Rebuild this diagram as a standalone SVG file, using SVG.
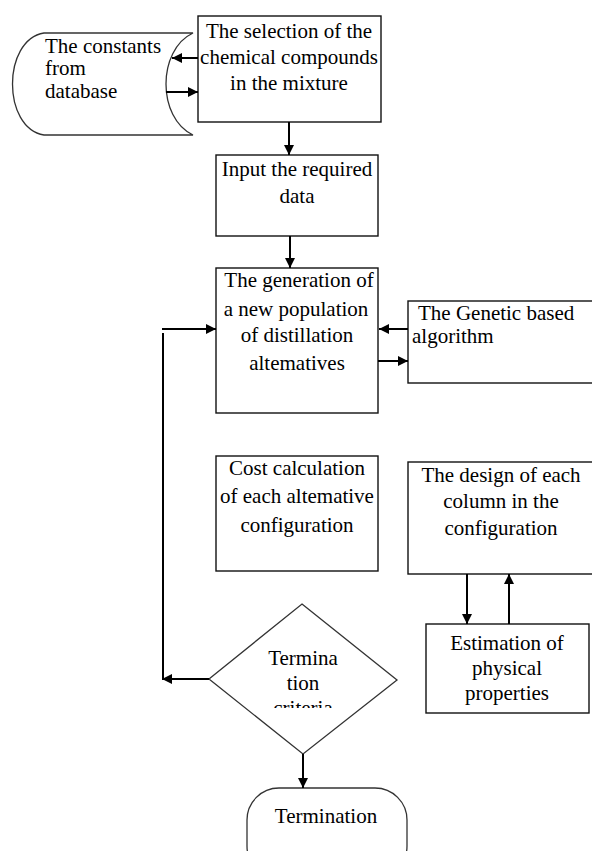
<svg xmlns="http://www.w3.org/2000/svg" width="592" height="851" viewBox="0 0 592 851">
<style>
.box{fill:#fff;stroke:#111;stroke-width:1.4}
.shape{fill:#fff;stroke:#333;stroke-width:1.3}
.conn{fill:none;stroke:#000;stroke-width:2}
text{font-family:"Liberation Serif","Times New Roman",serif;font-size:21px;fill:#000}
.c{text-anchor:middle}
</style>
<defs>
<marker id="ah" viewBox="0 0 10 10" refX="10" refY="5" markerWidth="5" markerHeight="5" orient="auto" markerUnits="strokeWidth">
<path d="M0,0 L10,5 L0,10 z" fill="#000"/>
</marker>
<clipPath id="dclip"><rect x="200" y="600" width="200" height="108"/></clipPath>
</defs>
<rect width="592" height="851" fill="#fff"/>

<g id="database">
<path class="shape" d="M193,33 L44,33 C2,40 2,128 44,135 L193,135 C157,118 157,50 193,33 Z"/>
<text x="45" y="53">The constants</text>
<text x="45" y="75">from</text>
<text x="45" y="98">database</text>
</g>

<g id="selection">
<rect class="box" x="198" y="16" width="183" height="106"/>
<text class="c" x="289" y="38">The selection of the</text>
<text class="c" x="289" y="64">chemical compounds</text>
<text class="c" x="289" y="90">in the mixture</text>
</g>

<g id="input">
<rect class="box" x="216" y="155" width="162" height="81"/>
<text class="c" x="297" y="176">Input the required</text>
<text class="c" x="297" y="203">data</text>
</g>

<g id="generation">
<rect class="box" x="216" y="268" width="162" height="145"/>
<text class="c" x="299" y="287">The generation of</text>
<text class="c" x="296" y="316">a new population</text>
<text class="c" x="297" y="342">of distillation</text>
<text class="c" x="297" y="370">altematives</text>
</g>

<g id="genetic">
<rect class="box" x="408" y="301" width="190" height="82"/>
<text x="418" y="320">The Genetic based</text>
<text x="412" y="343">algorithm</text>
</g>

<g id="cost">
<rect class="box" x="216" y="456" width="162" height="115"/>
<text class="c" x="297" y="475">Cost calculation</text>
<text class="c" x="297" y="503">of each altemative</text>
<text class="c" x="297" y="532">configuration</text>
</g>

<g id="design">
<rect class="box" x="408" y="462" width="190" height="112"/>
<text class="c" x="501" y="482">The design of each</text>
<text class="c" x="501" y="508">column in the</text>
<text class="c" x="501" y="535">configuration</text>
</g>

<g id="estimation">
<rect class="box" x="426" y="624" width="163" height="89"/>
<text class="c" x="507" y="650">Estimation of</text>
<text class="c" x="507" y="675">physical</text>
<text class="c" x="507" y="700">properties</text>
</g>

<g id="criteria">
<path class="shape" d="M302,604 L397,680 L303,754 L209,679 Z"/>
<g clip-path="url(#dclip)">
<text class="c" x="303" y="665">Termina</text>
<text class="c" x="303" y="690">tion</text>
<text class="c" x="303" y="715">criteria</text>
</g>
</g>

<g id="termination">
<rect class="shape" x="247" y="788" width="160" height="90" rx="32" ry="32"/>
<text class="c" x="326" y="823">Termination</text>
</g>

<g id="connectors">
<line class="conn" x1="198" y1="58" x2="172" y2="58" marker-end="url(#ah)"/>
<line class="conn" x1="166" y1="92" x2="198" y2="92" marker-end="url(#ah)"/>
<line class="conn" x1="289" y1="122" x2="289" y2="155" marker-end="url(#ah)"/>
<line class="conn" x1="290" y1="236" x2="290" y2="268" marker-end="url(#ah)"/>
<line class="conn" x1="408" y1="329" x2="379" y2="329" marker-end="url(#ah)"/>
<line class="conn" x1="378" y1="361" x2="408" y2="361" marker-end="url(#ah)"/>
<line class="conn" x1="162" y1="329" x2="216" y2="329" marker-end="url(#ah)"/>
<line class="conn" x1="163" y1="333" x2="163" y2="679"/>
<line class="conn" x1="209" y1="679" x2="162" y2="679" marker-end="url(#ah)"/>
<line class="conn" x1="467" y1="574" x2="467" y2="624" marker-end="url(#ah)"/>
<line class="conn" x1="509" y1="624" x2="509" y2="574" marker-end="url(#ah)"/>
<line class="conn" x1="303" y1="754" x2="303" y2="788" marker-end="url(#ah)"/>
</g>
</svg>
